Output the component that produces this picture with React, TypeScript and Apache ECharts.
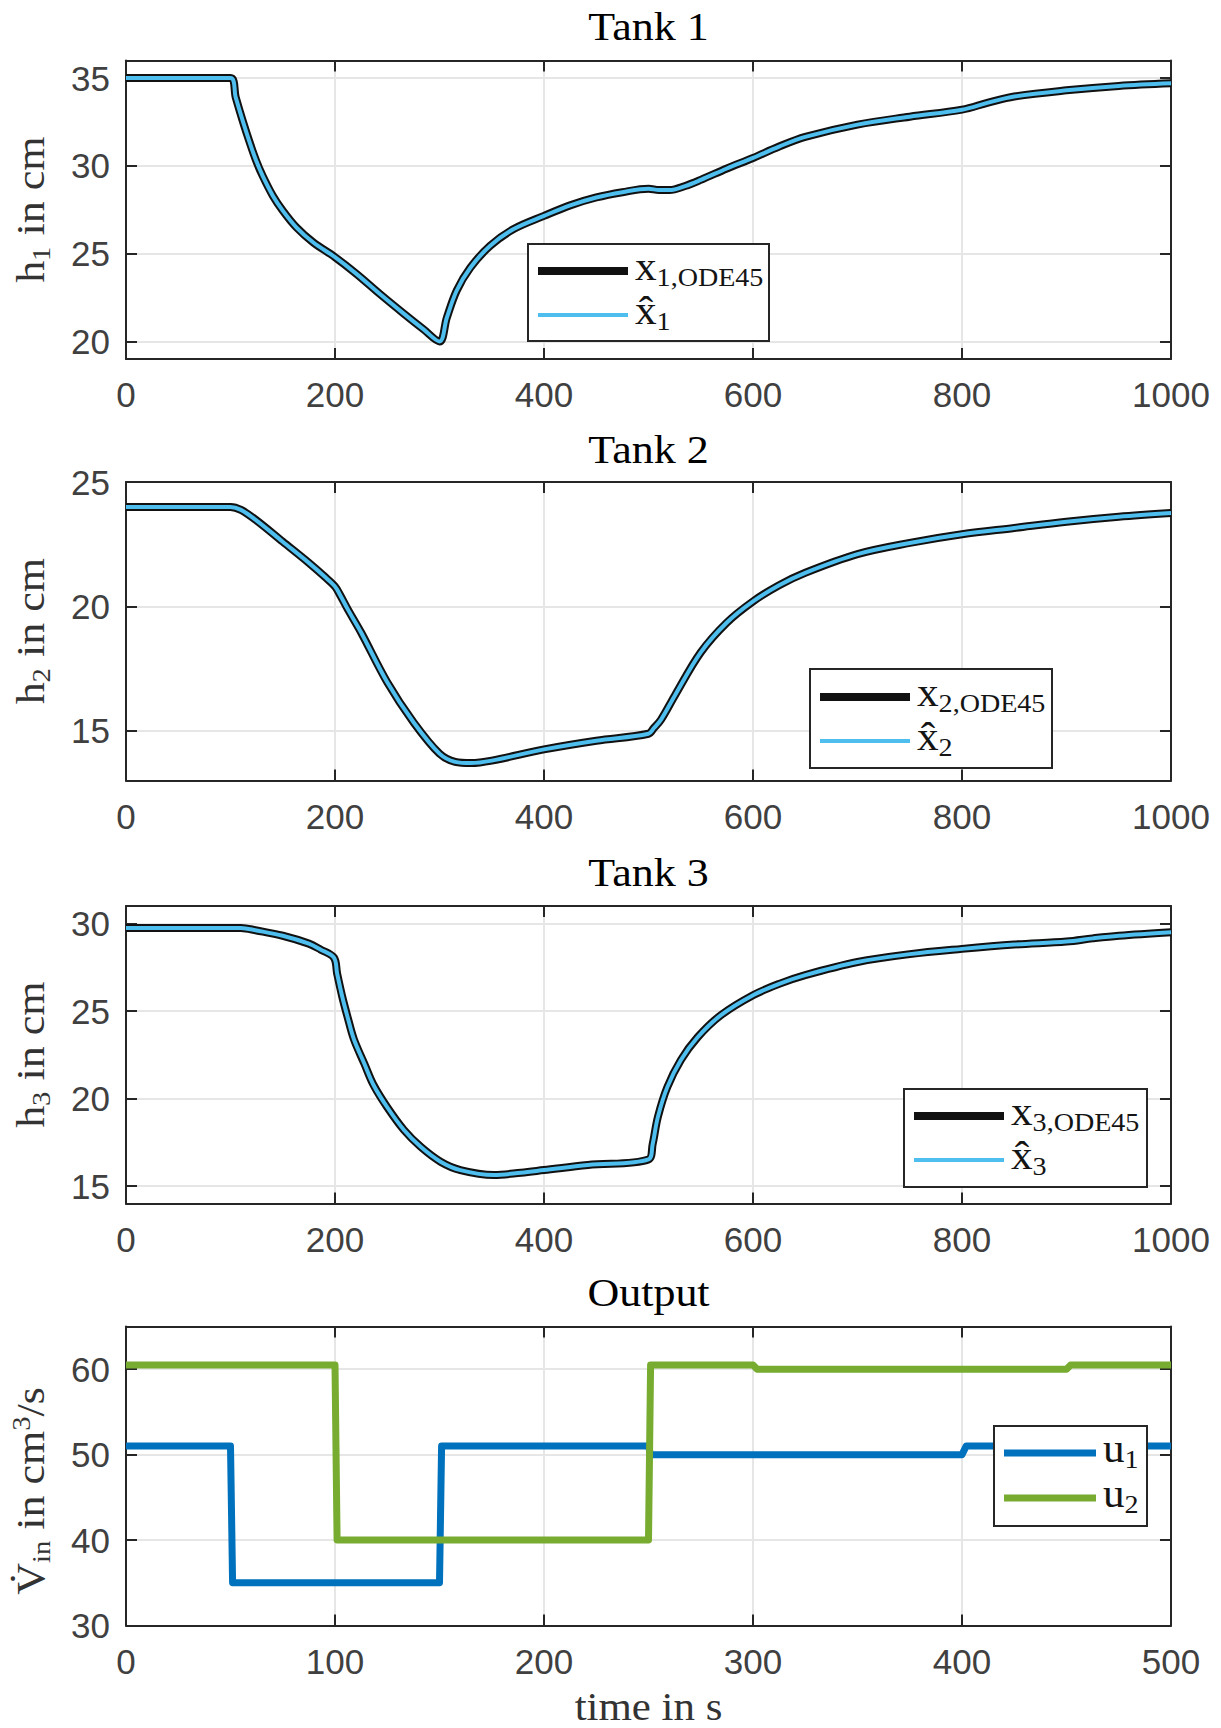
import React, { useEffect, useRef } from 'react';
import * as echarts from 'echarts';

// ---------- data ----------
// Repeated time stamps mark the sharp corners where the inputs switch.
const tank1Time = [0, 100, 100, 105, 111.5, 118, 124.5, 131, 140.5, 150, 163, 179, 200, 220.5, 243, 265.5, 284.5, 300, 300, 307, 316.5, 329.5, 348.5, 371, 400, 425, 450, 475, 500, 500, 510, 520, 535, 550, 575, 600, 625, 650, 700, 750, 800, 800, 825, 850, 900, 950, 1000];
const tank1Level = [35, 35, 35, 33.9, 32.6, 31.4, 30.3, 29.4, 28.3, 27.45, 26.5, 25.65, 24.8, 23.85, 22.7, 21.6, 20.7, 20.0, 20.0, 21.35, 22.9, 24.2, 25.45, 26.4, 27.15, 27.75, 28.2, 28.5, 28.7, 28.7, 28.62, 28.62, 28.85, 29.2, 29.85, 30.45, 31.1, 31.65, 32.35, 32.8, 33.2, 33.2, 33.6, 33.95, 34.3, 34.55, 34.7];

const tank2Time = [0, 100, 110, 125, 150, 175, 190, 200, 200, 205, 212, 225, 250, 275, 300, 315, 330, 350, 400, 450, 500, 500, 505, 512, 525, 550, 575, 600, 625, 650, 700, 750, 800, 850, 900, 950, 1000];
const tank2Level = [24, 24, 23.88, 23.45, 22.6, 21.75, 21.2, 20.8, 20.8, 20.45, 19.9, 18.95, 16.95, 15.35, 14.08, 13.75, 13.7, 13.8, 14.25, 14.6, 14.88, 14.88, 15.1, 15.45, 16.4, 18.15, 19.35, 20.2, 20.85, 21.35, 22.1, 22.55, 22.9, 23.15, 23.4, 23.6, 23.75];

const tank3Time = [0, 110, 125, 150, 175, 186, 199, 199, 202, 207, 212, 218, 228, 237, 250, 266, 282, 301, 320, 352, 378, 400, 442, 500, 500, 504, 509, 518, 531, 547, 569, 600, 600, 625, 650, 700, 750, 800, 850, 900, 900, 925, 950, 1000];
const tank3Level = [29.75, 29.75, 29.6, 29.3, 28.85, 28.52, 28.05, 28.05, 27.15, 25.8, 24.66, 23.4, 22.0, 20.76, 19.5, 18.2, 17.24, 16.39, 15.91, 15.63, 15.76, 15.91, 16.2, 16.52, 16.52, 17.4, 18.95, 20.65, 22.2, 23.5, 24.75, 25.9, 25.9, 26.55, 27.05, 27.8, 28.25, 28.55, 28.8, 28.97, 28.97, 29.15, 29.3, 29.5];

const outputTime1 = [0, 50, 51, 150, 151, 250, 251, 400, 402, 500];
const outputU1 = [51, 51, 35, 35, 51, 51, 50, 50, 51, 51];
const outputTime2 = [0, 100, 101, 250, 251, 300, 302, 450, 452, 500];
const outputU2 = [60.5, 60.5, 40, 40, 60.5, 60.5, 60, 60, 60.5, 60.5];

const tank1YTicks = [20, 25, 30, 35];
const tank2YTicks = [15, 20, 25];
const tank3YTicks = [15, 20, 25, 30];
const outputYTicks = [30, 40, 50, 60];
const tankXTicks = [0, 200, 400, 600, 800, 1000];
const outputXTicks = [0, 100, 200, 300, 400, 500];

const titles = ['Tank 1', 'Tank 2', 'Tank 3', 'Output'];

// ---------- styling / layout ----------
const AXIS_COLOR = '#262626';
const LABEL_COLOR = '#404040';
const GRID_COLOR = '#e6e6e6';
const SERIF = '"Liberation Serif", "Times New Roman", serif';
const SANS = '"Liberation Sans", Arial, sans-serif';
const SERIF_STRETCH = 1.1;

const GRID_LEFT = 126;
const GRID_WIDTH = 1045;
const gridTops = [60.5, 482, 906, 1326.5];
const gridHeights = [298.5, 298.5, 297.5, 299];
const titleYs = [27, 450, 873, 1293];
const yNameOffsets = [0, 0, 0, 15];

function richSet(color: string) {
  return {
    m: { fontFamily: SERIF, fontSize: 40, lineHeight: 46, fill: color, color },
    s: { fontFamily: SERIF, fontSize: 26, lineHeight: 26, verticalAlign: 'bottom', fill: color, color },
    p: { fontFamily: SERIF, fontSize: 26, lineHeight: 26, verticalAlign: 'top', fill: color, color },
  };
}
const richDark = richSet('#141414');
const richGray = richSet('#333333');

function zip(xs: number[], ys: number[]) {
  return xs.map((x, i) => [x, ys[i]]);
}

function makeLegend(left: number, top: number, w: number, h: number, items: { text: string; color: string; width: number; y: number }[], lineEnd: number, textX: number) {
  const children: any[] = [
    { type: 'rect', z: 100, shape: { x: 0, y: 0, width: w, height: h }, style: { fill: '#ffffff', stroke: AXIS_COLOR, lineWidth: 2 } },
  ];
  items.forEach((it) => {
    children.push({ type: 'line', z: 101, shape: { x1: 10, y1: it.y, x2: lineEnd, y2: it.y }, style: { stroke: it.color, lineWidth: it.width } });
    children.push({
      type: 'text', z: 101, x: textX, y: it.y - 4, scaleX: 1.08,
      style: { text: it.text, rich: richDark, align: 'left', verticalAlign: 'middle', textAlign: 'left', textVerticalAlign: 'middle' },
    });
  });
  return { type: 'group', x: left, y: top, z: 100, children };
}

export default function App() {
  const ref = useRef<HTMLDivElement>(null);

  useEffect(() => {
    document.body.style.margin = '0';
    if (!ref.current) return;
    const chart = echarts.init(ref.current, null, { renderer: 'svg' });

    const xRanges = [[0, 1000, 200], [0, 1000, 200], [0, 1000, 200], [0, 500, 100]];
    const yRanges = [[19, 36], [13, 25], [14, 31], [30, 65]];
    const yTicks = [tank1YTicks, tank2YTicks, tank3YTicks, outputYTicks];
    const xTicks = [tankXTicks, tankXTicks, tankXTicks, outputXTicks];

    const grid = gridTops.map((t, i) => ({ left: GRID_LEFT, width: GRID_WIDTH, top: t, height: gridHeights[i], containLabel: false }));

    const axisLine = { show: true, onZero: false, lineStyle: { color: AXIS_COLOR, width: 2 } };
    const axisTickBase = { show: true, inside: true, length: 11, lineStyle: { color: AXIS_COLOR, width: 2 } };
    const labelBase = { color: LABEL_COLOR, fontSize: 35, fontFamily: SANS, formatter: (v: number) => String(v) };

    const xAxis: any[] = [];
    const yAxis: any[] = [];
    for (let i = 0; i < 4; i++) {
      const [xmin, xmax, xint] = xRanges[i];
      xAxis.push({
        gridIndex: i, type: 'value', position: 'bottom', min: xmin, max: xmax, interval: xint,
        axisLine, axisTick: { ...axisTickBase, customValues: xTicks[i] },
        axisLabel: { ...labelBase, margin: 18, customValues: xTicks[i] },
        splitLine: { show: true, lineStyle: { color: GRID_COLOR, width: 2 } },
      });
      xAxis.push({
        gridIndex: i, type: 'value', position: 'top', min: xmin, max: xmax, interval: xint,
        axisLine, axisTick: { ...axisTickBase, customValues: xTicks[i] },
        axisLabel: { show: false }, splitLine: { show: false },
      });
      const [ymin, ymax] = yRanges[i];
      yAxis.push({
        gridIndex: i, type: 'value', position: 'left', min: ymin, max: ymax,
        axisLine, axisTick: { ...axisTickBase, customValues: yTicks[i] },
        axisLabel: { ...labelBase, margin: 16, customValues: yTicks[i] },
        splitLine: { show: true, lineStyle: { color: GRID_COLOR, width: 2 } },
      });
      yAxis.push({
        gridIndex: i, type: 'value', position: 'right', min: ymin, max: ymax,
        axisLine, axisTick: { ...axisTickBase, customValues: yTicks[i] },
        axisLabel: { show: false }, splitLine: { show: false },
      });
    }

    const tanks = [
      { t: tank1Time, h: tank1Level },
      { t: tank2Time, h: tank2Level },
      { t: tank3Time, h: tank3Level },
    ];
    const series: any[] = [];
    tanks.forEach((tk, i) => {
      series.push({
        type: 'line', name: `x${i + 1},ODE45`, xAxisIndex: 2 * i, yAxisIndex: 2 * i,
        data: zip(tk.t, tk.h), showSymbol: false, smooth: 0.35, silent: true, clip: true,
        lineStyle: { color: '#111111', width: 8, join: 'round' },
      });
      series.push({
        type: 'line', name: `x̂${i + 1}`, xAxisIndex: 2 * i, yAxisIndex: 2 * i,
        data: zip(tk.t, tk.h), showSymbol: false, smooth: 0.35, silent: true, clip: true,
        lineStyle: { color: '#4DBEEE', width: 4, join: 'round' },
      });
    });
    series.push({
      type: 'line', name: 'u1', xAxisIndex: 6, yAxisIndex: 6, data: zip(outputTime1, outputU1),
      showSymbol: false, silent: true, clip: true, lineStyle: { color: '#0072BD', width: 7, join: 'round' },
    });
    series.push({
      type: 'line', name: 'u2', xAxisIndex: 6, yAxisIndex: 6, data: zip(outputTime2, outputU2),
      showSymbol: false, silent: true, clip: true, lineStyle: { color: '#77AC30', width: 7, join: 'round' },
    });

    const centerX = GRID_LEFT + GRID_WIDTH / 2;
    const graphic: any[] = [];
    titles.forEach((t, i) => {
      graphic.push({
        type: 'text', x: centerX, y: titleYs[i], z: 50, scaleX: SERIF_STRETCH,
        style: { text: t, fontFamily: SERIF, fontSize: 40, fill: '#000', align: 'center', verticalAlign: 'middle', textAlign: 'center', textVerticalAlign: 'middle' },
      });
    });
    const yNames = ['{m|h}{s|1}{m| in cm}', '{m|h}{s|2}{m| in cm}', '{m|h}{s|3}{m| in cm}', '{m|V\u0307}{s|in}{m| in cm}{p|3}{m|/s}'];
    yNames.forEach((txt, i) => {
      graphic.push({
        type: 'text', x: 31, y: gridTops[i] + gridHeights[i] / 2 + yNameOffsets[i], rotation: Math.PI / 2, scaleX: SERIF_STRETCH, z: 50,
        style: { text: txt, rich: richGray, align: 'center', verticalAlign: 'middle', textAlign: 'center', textVerticalAlign: 'middle' },
      });
    });
    graphic.push({
      type: 'text', x: centerX, y: 1707, z: 50, scaleX: SERIF_STRETCH,
      style: { text: 'time in s', fontFamily: SERIF, fontSize: 39, lineHeight: 36, fill: '#333', align: 'center', verticalAlign: 'middle', textAlign: 'center', textVerticalAlign: 'middle' },
    });

    graphic.push(makeLegend(528, 244, 241, 97, [
      { text: '{m|x}{s|1,ODE45}', color: '#111111', width: 8, y: 27 },
      { text: '{m|x\u0302}{s|1}', color: '#4DBEEE', width: 4, y: 71 },
    ], 100, 107));
    graphic.push(makeLegend(810, 669, 242, 99, [
      { text: '{m|x}{s|2,ODE45}', color: '#111111', width: 8, y: 28 },
      { text: '{m|x\u0302}{s|2}', color: '#4DBEEE', width: 4, y: 72 },
    ], 100, 107));
    graphic.push(makeLegend(904, 1089, 243, 98, [
      { text: '{m|x}{s|3,ODE45}', color: '#111111', width: 8, y: 27 },
      { text: '{m|x\u0302}{s|3}', color: '#4DBEEE', width: 4, y: 71 },
    ], 100, 107));
    graphic.push(makeLegend(994, 1426, 153, 100, [
      { text: '{m|u}{s|1}', color: '#0072BD', width: 7, y: 27 },
      { text: '{m|u}{s|2}', color: '#77AC30', width: 7, y: 72 },
    ], 102, 109));

    chart.setOption({
      animation: false,
      backgroundColor: '#ffffff',
      grid, xAxis, yAxis, series, graphic,
    });

    return () => chart.dispose();
  }, []);

  return <div ref={ref} style={{ width: 1221, height: 1728 }} />;
}
